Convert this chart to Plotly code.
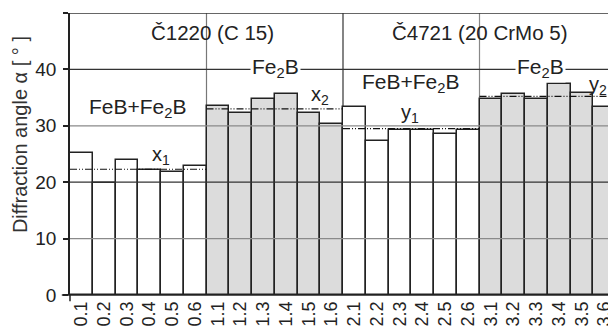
import plotly.graph_objects as go

# ---- data ----
samples = ["0.1", "0.2", "0.3", "0.4", "0.5", "0.6",
           "1.1", "1.2", "1.3", "1.4", "1.5", "1.6",
           "2.1", "2.2", "2.3", "2.4", "2.5", "2.6",
           "3.1", "3.2", "3.3", "3.4", "3.5", "3.6"]
angles = [25.2, 19.9, 23.9, 22.1, 21.8, 22.9,
          33.5, 32.3, 34.8, 35.6, 32.3, 30.4,
          33.4, 27.3, 29.3, 29.3, 28.5, 29.3,
          34.7, 35.6, 34.7, 37.5, 35.8, 33.4]
phases = ["FeB+Fe2B"] * 6 + ["Fe2B"] * 6 + ["FeB+Fe2B"] * 6 + ["Fe2B"] * 6
group_means = [22.3, 33.0, 29.5, 35.2]
mean_labels = ["x<sub>1</sub>", "x<sub>2</sub>", "y<sub>1</sub>", "y<sub>2</sub>"]
steels = ["Č1220 (C 15)", "Č4721 (20 CrMo 5)"]
y_ticks = [0, 10, 20, 30, 40, 50]

FONT = "Liberation Sans, Arial, sans-serif"
DARK = "#222222"
phase_fill = {"FeB+Fe2B": "#ffffff", "Fe2B": "#dcdcdc"}

fig = go.Figure()
fig.add_trace(go.Bar(
    x=samples, y=angles,
    marker=dict(color=[phase_fill[p] for p in phases],
                line=dict(color=DARK, width=1.5)),
    showlegend=False, hoverinfo="x+y",
))

shapes = []
# vertical group dividers (behind bars)
div_colors = ["#777777", "#333333", "#888888"]
for i, c in enumerate(div_colors):
    xb = 5.5 + 6 * i
    shapes.append(dict(type="line", xref="x", yref="y", x0=xb, x1=xb, y0=0, y1=50,
                       line=dict(color=c, width=1.2), layer="below"))
# horizontal grid lines drawn over the bars
grid_colors = {10: "#8a8a8a", 20: "#333333", 30: "#8a8a8a", 40: "#333333", 50: "#333333"}
for v in y_ticks[1:]:
    shapes.append(dict(type="line", xref="paper", yref="y", x0=0, x1=1, y0=v, y1=v,
                       line=dict(color=grid_colors[v], width=1.5 if v == 50 else 1.2),
                       layer="above"))
# x axis line extending slightly left of the y axis, plus small tick
shapes.append(dict(type="line", xref="paper", yref="paper", x0=-0.015, x1=1, y0=0, y1=0,
                   line=dict(color=DARK, width=1.5)))
shapes.append(dict(type="line", xref="paper", yref="paper", x0=0, x1=0, y0=0, y1=-0.022,
                   line=dict(color=DARK, width=1.5)))
# group mean lines
for g, m in enumerate(group_means):
    shapes.append(dict(type="line", xref="x", yref="y", x0=-0.5 + 6 * g, x1=5.5 + 6 * g,
                       y0=m, y1=m, layer="above",
                       line=dict(color="#111111", width=1.2, dash="7px,2px,1px,2px,1px,2px")))

annotations = []
# steel grade titles
annotations.append(dict(x=5.77, y=46.5, xref="x", yref="y", text=steels[0], showarrow=False,
                        font=dict(family=FONT, size=20.5, color=DARK)))
annotations.append(dict(x=17.5, y=46.5, xref="x", yref="y", text=steels[1], showarrow=False,
                        font=dict(family=FONT, size=20.5, color=DARK)))
# phase labels
phase_pos = [(2.48, 33.2, "FeB+Fe<sub>2</sub>B", None),
             (8.54, 40.3, "Fe<sub>2</sub>B", "white"),
             (14.47, 37.6, "FeB+Fe<sub>2</sub>B", None),
             (20.2, 40.3, "Fe<sub>2</sub>B", "white")]
for x, y, t, bg in phase_pos:
    a = dict(x=x, y=y, xref="x", yref="y", text=t, showarrow=False,
             font=dict(family=FONT, size=21, color=DARK))
    if bg:
        a["bgcolor"] = bg
        a["borderpad"] = 1
    annotations.append(a)
# mean labels
mean_pos = [(3.52, 24.8), (10.5, 35.4), (14.43, 32.2), (22.7, 37.2)]
for (x, y), t in zip(mean_pos, mean_labels):
    annotations.append(dict(x=x, y=y, xref="x", yref="y", text=t, showarrow=False,
                            font=dict(family=FONT, size=20, color=DARK)))
# y-axis title (centre at ~20 px from the left edge, shifted upward)
annotations.append(dict(x=-50 / 546, y=0.567, xref="paper", yref="paper",
                        xanchor="center", yanchor="middle",
                        text="Diffraction angle α [ ° ]", textangle=-90, showarrow=False,
                        font=dict(family=FONT, size=20, color="#333333")))

# the page body has an 8 px margin, so the figure is offset by 8 px; compensate
fig.update_layout(
    width=608, height=327,
    margin=dict(l=62, r=0, t=5, b=40),
    paper_bgcolor="white", plot_bgcolor="white",
    bargap=0,
    shapes=shapes, annotations=annotations,
    font=dict(family=FONT, color=DARK),
    xaxis=dict(type="category", range=[-0.5, 23.5], showgrid=False, showline=False,
               ticks="", tickangle=-90, tickfont=dict(family=FONT, size=18, color=DARK),
               zeroline=False, ticklabelstandoff=2),
    yaxis=dict(range=[0, 50], tickvals=y_ticks, showgrid=False, zeroline=False,
               showline=True, linecolor=DARK, linewidth=1.5,
               ticks="outside", ticklen=5, tickwidth=1.5, tickcolor=DARK,
               tickfont=dict(family=FONT, size=19, color=DARK), ticklabelstandoff=3),
)

fig.write_html("out.html")
